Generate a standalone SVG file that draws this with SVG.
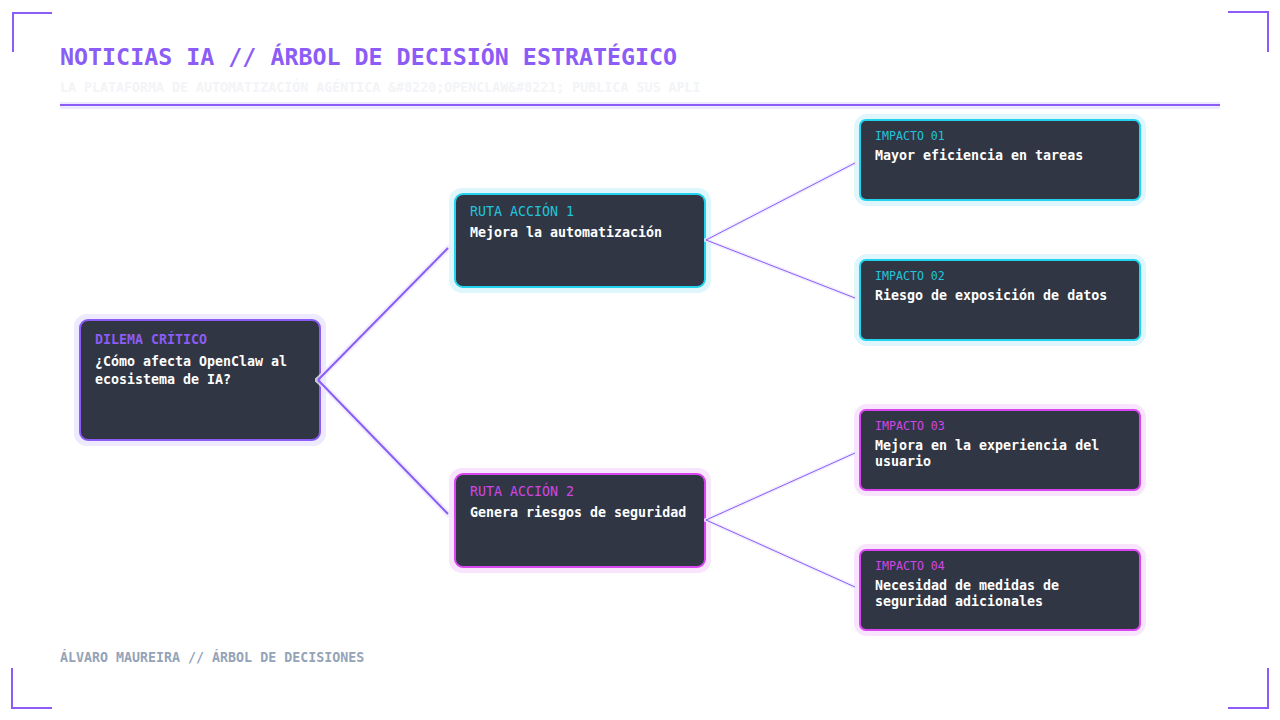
<svg xmlns="http://www.w3.org/2000/svg" width="1280" height="720" viewBox="0 0 1280 720">
<style>
  text { font-family: "DejaVu Sans Mono", "Liberation Mono", monospace; }
  .title { font-size: 23.3px; font-weight: bold; fill: #8b5cf6; }
  .sub { font-size: 13.3px; font-weight: bold; fill: #f2f4f7; }
  .foot { font-size: 13.3px; font-weight: bold; fill: #94a3b8; }
  .bracket { fill: none; stroke: #8b5cf6; stroke-width: 2; }
  .card { fill: #303643; stroke-width: 2; }
  .body { font-size: 13.3px; font-weight: bold; fill: #ffffff; }
  .lbl { font-size: 13.3px; }
  .lbls { font-size: 11.6px; }
  .purple .card { stroke: #8b5cf6; }
  .purple .glow { fill: #ede9fe; }
  .purple .lbl { fill: #8b5cf6; font-weight: bold; }
  .cyan .card { stroke: #22d3ee; }
  .cyan .glow { fill: #dff7fc; }
  .cyan .lbl, .cyan .lbls { fill: #22c4de; }
  .mag .card { stroke: #d946ef; }
  .mag .glow { fill: #f8e4fc; }
  .mag .lbl, .mag .lbls { fill: #d046e6; }
  .cglow { stroke: #ede9fe; fill: none; stroke-linecap: round; opacity: 0.8; }
  .cline { stroke: #8b5cf6; fill: none; }
</style>

<g id="frame">
  <path class="bracket" d="M13,52 V13 H52"/>
  <path class="bracket" d="M1228,12 H1268 V52"/>
  <path class="bracket" d="M12,668 V708 H52"/>
  <path class="bracket" d="M1228,708 H1268 V668"/>
</g>

<g id="header">
  <text class="title" x="60" y="65">NOTICIAS IA // ÁRBOL DE DECISIÓN ESTRATÉGICO</text>
  <text class="sub" x="60" y="92">LA PLATAFORMA DE AUTOMATIZACIÓN AGÉNTICA &amp;#8220;OPENCLAW&amp;#8221; PUBLICA SUS APLI</text>
  <rect x="60" y="102" width="1160" height="7" fill="#ede9fe"/>
  <line x1="60" y1="105" x2="1220" y2="105" stroke="#8b5cf6" stroke-width="2"/>
</g>

<g id="root" class="purple">
  <rect class="glow" x="74" y="314" width="252" height="132" rx="13"/>
  <rect class="card" x="80" y="320" width="240" height="120" rx="8"/>
  <text class="lbl" x="95" y="344">DILEMA CRÍTICO</text>
  <text class="body" x="95" y="366">¿Cómo afecta OpenClaw al</text>
  <text class="body" x="95" y="384">ecosistema de IA?</text>
</g>

<g id="ruta1" class="cyan">
  <rect class="glow" x="449" y="188" width="262" height="105" rx="13"/>
  <rect class="card" x="455" y="194" width="250" height="93" rx="8"/>
  <text class="lbl" x="470" y="216">RUTA ACCIÓN 1</text>
  <text class="body" x="470" y="237">Mejora la automatización</text>
</g>

<g id="ruta2" class="mag">
  <rect class="glow" x="449" y="468" width="262" height="105" rx="13"/>
  <rect class="card" x="455" y="474" width="250" height="93" rx="8"/>
  <text class="lbl" x="470" y="496">RUTA ACCIÓN 2</text>
  <text class="body" x="470" y="517">Genera riesgos de seguridad</text>
</g>

<g id="impacto1" class="cyan">
  <rect class="glow" x="854" y="114" width="292" height="92" rx="13"/>
  <rect class="card" x="860" y="120" width="280" height="80" rx="6"/>
  <text class="lbls" x="875" y="140">IMPACTO 01</text>
  <text class="body" x="875" y="160">Mayor eficiencia en tareas</text>
</g>

<g id="impacto2" class="cyan">
  <rect class="glow" x="854" y="254" width="292" height="92" rx="13"/>
  <rect class="card" x="860" y="260" width="280" height="80" rx="6"/>
  <text class="lbls" x="875" y="280">IMPACTO 02</text>
  <text class="body" x="875" y="300">Riesgo de exposición de datos</text>
</g>

<g id="impacto3" class="mag">
  <rect class="glow" x="854" y="404" width="292" height="92" rx="13"/>
  <rect class="card" x="860" y="410" width="280" height="80" rx="6"/>
  <text class="lbls" x="875" y="430">IMPACTO 03</text>
  <text class="body" x="875" y="450">Mejora en la experiencia del</text>
  <text class="body" x="875" y="466">usuario</text>
</g>

<g id="impacto4" class="mag">
  <rect class="glow" x="854" y="544" width="292" height="92" rx="13"/>
  <rect class="card" x="860" y="550" width="280" height="80" rx="6"/>
  <text class="lbls" x="875" y="570">IMPACTO 04</text>
  <text class="body" x="875" y="590">Necesidad de medidas de</text>
  <text class="body" x="875" y="606">seguridad adicionales</text>
</g>

<g id="connectors">
  <g class="cglow" stroke-width="6">
    <line x1="318" y1="380" x2="448" y2="248"/>
    <line x1="318" y1="380" x2="448" y2="514"/>
  </g>
  <g class="cglow" stroke-width="4">
    <line x1="706" y1="240" x2="855" y2="163"/>
    <line x1="706" y1="240" x2="855" y2="298"/>
    <line x1="706" y1="520" x2="855" y2="453"/>
    <line x1="706" y1="520" x2="855" y2="587"/>
  </g>
  <g class="cline" stroke-width="2">
    <line x1="318" y1="380" x2="448" y2="248"/>
    <line x1="318" y1="380" x2="448" y2="514"/>
  </g>
  <g class="cline" stroke-width="1">
    <line x1="706" y1="240" x2="855" y2="163"/>
    <line x1="706" y1="240" x2="855" y2="298"/>
    <line x1="706" y1="520" x2="855" y2="453"/>
    <line x1="706" y1="520" x2="855" y2="587"/>
  </g>
</g>

<g id="footer">
  <text class="foot" x="60" y="662">ÁLVARO MAUREIRA // ÁRBOL DE DECISIONES</text>
</g>
</svg>
